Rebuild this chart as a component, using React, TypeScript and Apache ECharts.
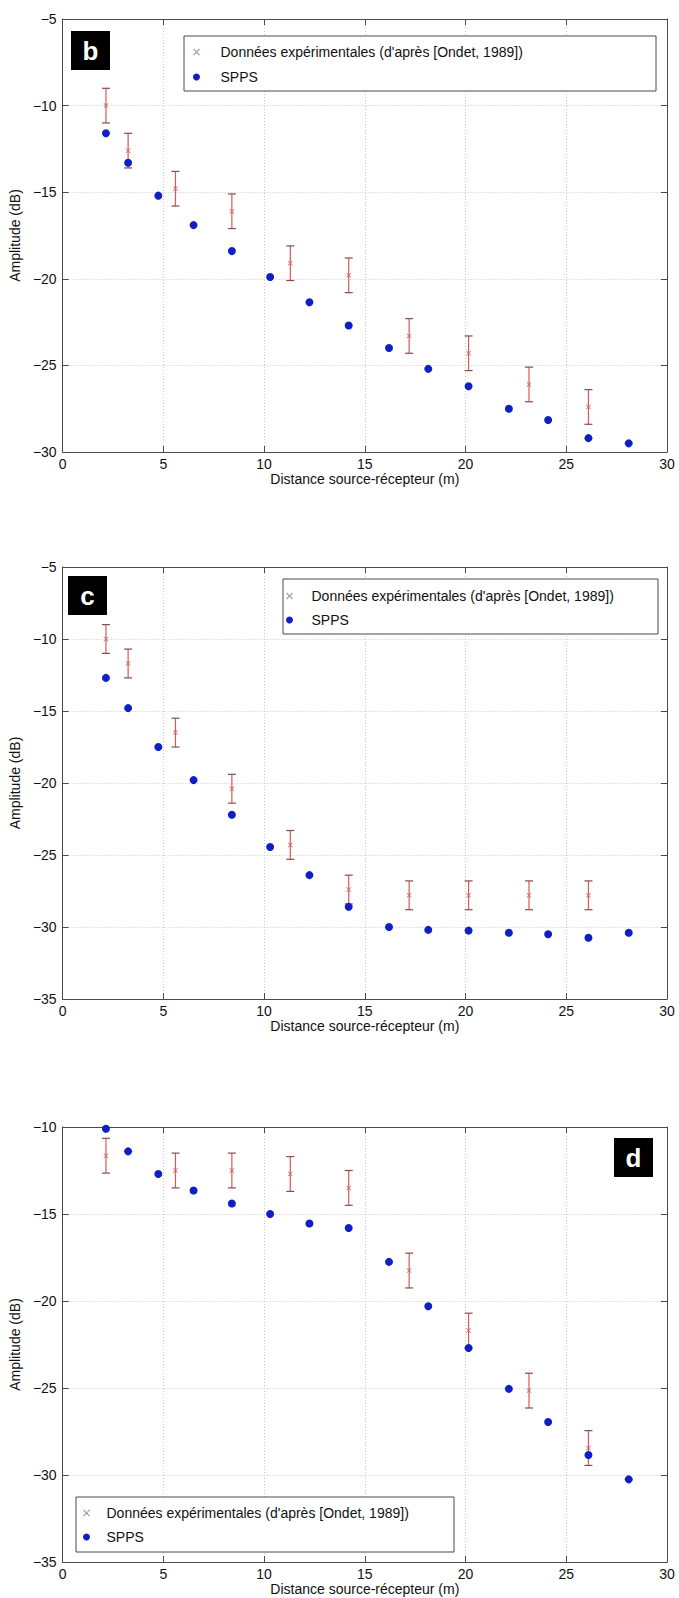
import React, { useEffect, useRef } from "react";
import * as echarts from "echarts";

// ---------- data ----------
const X_TICKS_MIN = 0;
const X_TICKS_MAX = 30;

const EXP_NAME = "Données expérimentales (d'après [Ondet, 1989])";
const SIM_NAME = "SPPS";
const X_NAME = "Distance source-récepteur (m)";
const Y_NAME = "Amplitude (dB)";

const X_SIM = [2.15, 3.25, 4.75, 6.5, 8.4, 10.3, 12.25, 14.2, 16.2, 18.15, 20.15, 22.15, 24.1, 26.1, 28.1];
const SIM_B = [-11.6, -13.3, -15.2, -16.9, -18.4, -19.9, -21.35, -22.7, -24.0, -25.2, -26.2, -27.5, -28.15, -29.2, -29.5];
const SIM_C = [-12.7, -14.8, -17.5, -19.8, -22.2, -24.45, -26.4, -28.6, -30.0, -30.2, -30.25, -30.4, -30.5, -30.75, -30.4];
const SIM_D = [-10.1, -11.4, -12.7, -13.65, -14.4, -15.0, -15.55, -15.8, -17.75, -20.3, -22.7, -25.05, -26.95, -28.85, -30.25];

const X_EXP_B = [2.15, 3.25, 5.6, 8.4, 11.3, 14.2, 17.2, 20.15, 23.15, 26.1];
const EXP_B = [-10.0, -12.6, -14.8, -16.1, -19.1, -19.8, -23.3, -24.3, -26.1, -27.4];
const X_EXP_C = [2.15, 3.25, 5.6, 8.4, 11.3, 14.2, 17.2, 20.15, 23.15, 26.1];
const EXP_C = [-10.0, -11.7, -16.5, -20.4, -24.3, -27.4, -27.8, -27.8, -27.8, -27.8];
const X_EXP_D = [2.15, 5.6, 8.4, 11.3, 14.2, 17.2, 20.15, 23.15, 26.1];
const EXP_D = [-11.65, -12.5, -12.5, -12.7, -13.5, -18.25, -21.7, -25.15, -28.45];
const EXP_ERR = 1;

const Y_RANGES = [
  [-30, -5],
  [-35, -5],
  [-35, -10],
];
const PANEL_TAGS = ["b", "c", "d"];

// ---------- layout / style ----------
const FONT = "'Liberation Sans', Arial, Helvetica, sans-serif";
const AXIS_COLOR = "#4a4a4a";
const RED = "#d25a5a";
const CAP = "#8a4b4b";
const BLUE = "#0f1fc4";
const X_ICON = "path://M0,1L1,0L4,3L7,0L8,1L5,4L8,7L7,8L4,5L1,8L0,7L3,4Z";

const LAYOUT = [
  {
    grid: { left: 59, top: 19, width: 608, height: 433 },
    box: { x: 184, y: 36, w: 472, h: 55 },
    legend: { left: 193, top: 44, itemWidth: 38, itemGap: 9 },
    tag: { x: 71, y: 31 },
  },
  {
    grid: { left: 58, top: 567, width: 609, height: 432 },
    box: { x: 283, y: 579, w: 375, h: 55 },
    legend: { left: 286, top: 588, itemWidth: 34, itemGap: 8 },
    tag: { x: 68, y: 576 },
  },
  {
    grid: { left: 58, top: 1127, width: 609, height: 435 },
    box: { x: 76, y: 1497, w: 378, h: 55 },
    legend: { left: 83, top: 1505, itemWidth: 30, itemGap: 8 },
    tag: { x: 614, y: 1138 },
  },
];

const SIMS = [SIM_B, SIM_C, SIM_D];
const EXPS = [EXP_B, EXP_C, EXP_D];
const X_EXPS = [X_EXP_B, X_EXP_C, X_EXP_D];

const minus = (v: number) => String(v).replace("-", "\u2212");

function buildOption() {
  const grid: any[] = [];
  const xAxis: any[] = [];
  const yAxis: any[] = [];
  const series: any[] = [];
  const legend: any[] = [];
  const graphic: any[] = [];

  LAYOUT.forEach((L, i) => {
    grid.push({ ...L.grid, show: false });
    const [yMin, yMax] = Y_RANGES[i];
    const tick = { show: true, inside: true, length: 6, lineStyle: { color: AXIS_COLOR, width: 1 } };
    const line = { show: true, onZero: false, lineStyle: { color: AXIS_COLOR, width: 1 } };
    xAxis.push({
      gridIndex: i,
      type: "value",
      position: "bottom",
      min: X_TICKS_MIN,
      max: X_TICKS_MAX,
      interval: 5,
      axisLine: line,
      axisTick: tick,
      axisLabel: { fontSize: 14, color: "#111", margin: 5, fontFamily: FONT },
      splitLine: { show: true, lineStyle: { color: "#c8c8c8", type: [1, 2], width: 1 } },
      name: X_NAME,
      nameLocation: "middle",
      nameGap: 20,
      nameTextStyle: { fontSize: 14, color: "#111", fontFamily: FONT },
    });
    xAxis.push({
      gridIndex: i,
      type: "value",
      position: "top",
      min: X_TICKS_MIN,
      max: X_TICKS_MAX,
      interval: 5,
      axisLine: line,
      axisTick: tick,
      axisLabel: { show: false },
      splitLine: { show: false },
    });
    yAxis.push({
      gridIndex: i,
      type: "value",
      position: "left",
      min: yMin,
      max: yMax,
      interval: 5,
      axisLine: line,
      axisTick: tick,
      axisLabel: { fontSize: 14, color: "#111", margin: 6, fontFamily: FONT, formatter: minus },
      splitLine: { show: true, lineStyle: { color: "#c8c8c8", type: [1, 2], width: 1 } },
      name: Y_NAME,
      nameLocation: "middle",
      nameGap: 34,
      nameTextStyle: { fontSize: 14, color: "#111", fontFamily: FONT },
    });
    yAxis.push({
      gridIndex: i,
      type: "value",
      position: "right",
      min: yMin,
      max: yMax,
      interval: 5,
      axisLine: line,
      axisTick: tick,
      axisLabel: { show: false },
      splitLine: { show: false },
    });

    const xi = i * 2;
    const yi = i * 2;
    const xs = X_EXPS[i];
    const ex = EXPS[i];
    series.push({
      type: "custom",
      name: "errbar" + i,
      xAxisIndex: xi,
      yAxisIndex: yi,
      z: 2,
      data: ex.map((v, k) => [xs[k], v - EXP_ERR, v + EXP_ERR]),
      encode: { x: 0, y: [1, 2] },
      renderItem: (params: any, api: any) => {
        const x = api.value(0);
        const top = api.coord([x, api.value(2)]);
        const bot = api.coord([x, api.value(1)]);
        const hw = 4;
        return {
          type: "group",
          children: [
            { type: "line", shape: { x1: top[0], y1: top[1], x2: bot[0], y2: bot[1] }, style: { stroke: RED, lineWidth: 1.2 } },
            { type: "line", shape: { x1: top[0] - hw, y1: top[1], x2: top[0] + hw, y2: top[1] }, style: { stroke: CAP, lineWidth: 1.2 } },
            { type: "line", shape: { x1: bot[0] - hw, y1: bot[1], x2: bot[0] + hw, y2: bot[1] }, style: { stroke: CAP, lineWidth: 1.2 } },
          ],
        };
      },
    });
    series.push({
      type: "scatter",
      name: EXP_NAME,
      xAxisIndex: xi,
      yAxisIndex: yi,
      z: 3,
      symbol: X_ICON,
      symbolSize: 5,
      itemStyle: { color: RED },
      data: ex.map((v, k) => [xs[k], v]),
    });
    series.push({
      type: "scatter",
      name: SIM_NAME,
      xAxisIndex: xi,
      yAxisIndex: yi,
      z: 4,
      symbol: "circle",
      symbolSize: 8,
      itemStyle: { color: BLUE, opacity: 1 },
      data: SIMS[i].map((v, k) => [X_SIM[k], v]),
    });

    legend.push({
      orient: "vertical",
      left: L.legend.left,
      top: L.legend.top,
      padding: 0,
      itemWidth: L.legend.itemWidth,
      itemHeight: 7,
      itemGap: L.legend.itemGap,
      selectedMode: false,
      z: 10,
      textStyle: { fontSize: 14, color: "#111", fontFamily: FONT, lineHeight: 16 },
      data: [
        { name: EXP_NAME, icon: X_ICON, itemStyle: { color: "#a08080" } },
        { name: SIM_NAME, icon: "circle" },
      ],
    });

    graphic.push({
      type: "rect",
      z: 5,
      shape: { x: L.box.x, y: L.box.y, width: L.box.w, height: L.box.h },
      style: { fill: "#fff", stroke: AXIS_COLOR, lineWidth: 1 },
    });
    graphic.push({
      type: "rect",
      z: 5,
      shape: { x: L.tag.x, y: L.tag.y, width: 39, height: 39 },
      style: { fill: "#000" },
    });
    graphic.push({
      type: "text",
      z: 6,
      x: L.tag.x + 19.5,
      y: L.tag.y + 20,
      style: {
        text: PANEL_TAGS[i],
        fill: "#fff",
        font: `bold 26px ${FONT}`,
        align: "center",
        verticalAlign: "middle",
      },
    });
  });

  return { animation: false, backgroundColor: "#fff", grid, xAxis, yAxis, series, legend, graphic };
}

export default function App() {
  const ref = useRef<HTMLDivElement>(null);
  useEffect(() => {
    if (!ref.current) return;
    const chart = echarts.init(ref.current, undefined, { renderer: "svg" });
    chart.setOption(buildOption());
    return () => chart.dispose();
  }, []);
  return (
    <div
      ref={ref}
      style={{ position: "absolute", left: 0, top: 0, width: 679, height: 1598, background: "#fff" }}
    />
  );
}
